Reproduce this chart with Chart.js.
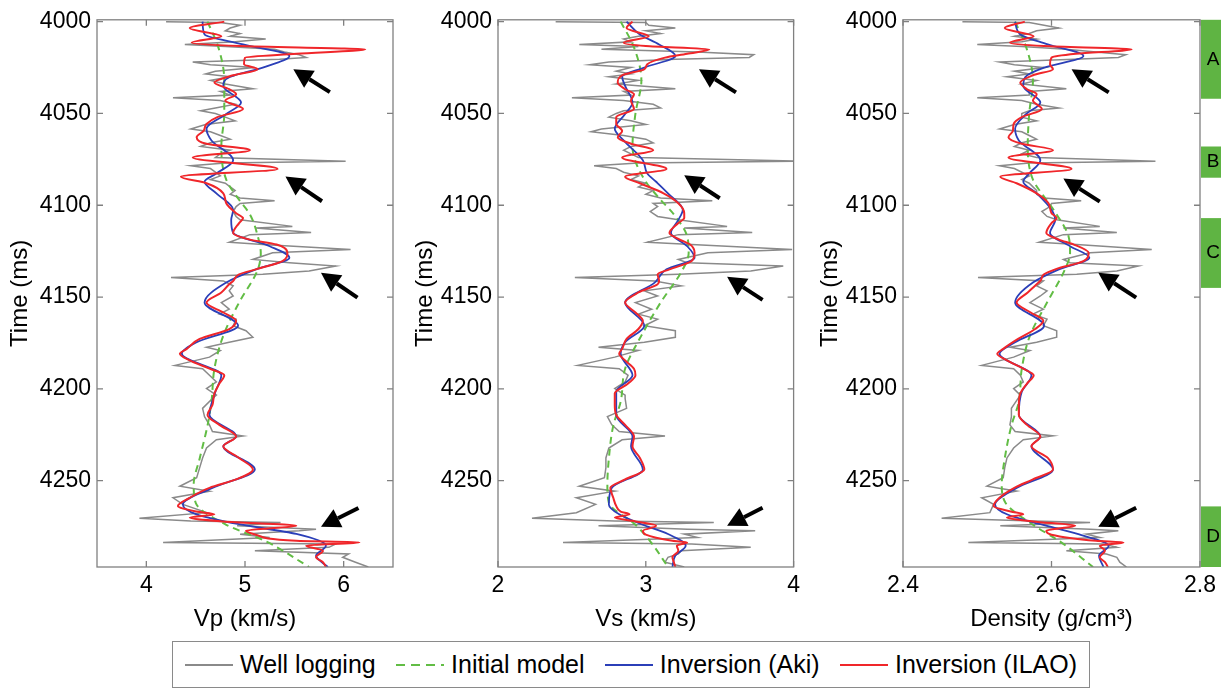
<!DOCTYPE html>
<html>
<head>
<meta charset="utf-8">
<script src="https://cdn.jsdelivr.net/npm/chart.js@4.4.0/dist/chart.umd.min.js"></script>
<style>
  body { margin: 0; background: #fff; font-family: "Liberation Sans", Arial, sans-serif; }
  #wrap { position: relative; width: 1228px; height: 689px; overflow: hidden; }
  #wrap canvas { position: absolute; top: 0; }
  #legend {
    position: absolute; left: 172px; top: 641px; width: 892px; height: 45px; padding: 0 12px;
    border: 1px solid #8a8a8a; display: flex; align-items: center; justify-content: space-between;
    font-size: 25px; color: #000;
  }
  #legend .item { display: flex; align-items: center; }
  #legend .ln { display: inline-block; width: 48px; height: 2px; margin-right: 7px; }
</style>
</head>
<body>
<div id="wrap">
  <canvas id="vpChart" width="400" height="640" style="left:0px"></canvas>
  <canvas id="vsChart" width="400" height="640" style="left:405px"></canvas>
  <canvas id="rhoChart" width="418" height="640" style="left:810px"></canvas>
  <div id="legend">
    <span class="item"><i class="ln" style="background:#8a8a8a"></i>Well logging</span>
    <span class="item"><i class="ln" style="background:repeating-linear-gradient(to right,#62bd45 0 9px,transparent 9px 15px)"></i>Initial model</span>
    <span class="item"><i class="ln" style="background:#2b3fb8"></i>Inversion (Aki)</span>
    <span class="item"><i class="ln" style="background:#f0262a"></i>Inversion (ILAO)</span>
  </div>
</div>
<script>
// ---- well logging (gray) ----
const tWell = [
  4000, 4000.5, 4002, 4003.5, 4005, 4006.5, 4008, 4009.5, 4011, 4012.5, 4013.5, 4015, 4016.5, 4018, 4019.5,
  4020.5, 4022, 4023.5, 4025, 4027, 4028.5, 4030, 4032, 4034, 4036.5, 4038, 4040, 4041.5, 4043, 4045,
  4047, 4048.5, 4050, 4052, 4054, 4056, 4058.5, 4060, 4062, 4064, 4066, 4068, 4070, 4072, 4074,
  4076, 4077, 4078.5, 4080, 4082, 4084, 4086, 4088, 4090, 4092, 4094, 4096, 4097.5, 4099,
  4100.7, 4103.4, 4106.1, 4107.9, 4111.5, 4112.4, 4114.8, 4116, 4120.2, 4121.4, 4124.1, 4125.9, 4129.5,
  4131.3, 4133.1, 4135.8, 4137.6, 4139.4, 4141.2, 4143.9, 4146.6, 4149.4, 4153, 4156.6, 4159.3, 4162,
  4165.6, 4168.3, 4171.9, 4174.6, 4177.3, 4179.1, 4182.7, 4187.2, 4189, 4192.6, 4196.2, 4199.8, 4203.4,
  4205.2, 4210.6, 4215.1, 4219.6, 4223.2, 4225.6, 4227.7, 4232.2, 4237.6, 4243, 4248.4, 4253, 4255.7,
  4259.3, 4262.9, 4267.4, 4270.4, 4271.9, 4272.8, 4274.6, 4276.4, 4277.3, 4279.1, 4280.9, 4283.6, 4284.5,
  4286.3, 4288.1, 4289.9, 4291.7, 4294.4, 4297
];
const vpWell = [
  4.20, 4.75, 4.95, 4.85, 4.80, 4.95, 4.85, 5.21, 4.90, 4.39, 4.80, 5.30, 5.40, 5.55, 5.62,
  5.35, 4.47, 4.65, 5.10, 4.70, 4.60, 4.85, 4.65, 4.80, 5.08, 4.75, 4.85, 4.27, 4.75, 4.90,
  4.70, 4.55, 4.70, 4.80, 4.90, 4.60, 4.45, 4.65, 4.75, 4.85, 4.65, 4.55, 4.85, 4.75, 4.70,
  6.02, 4.80, 4.45, 4.65, 4.70, 4.75, 4.65, 4.80, 4.85, 4.90, 4.85, 4.95, 5.30, 4.95,
  4.91, 4.88, 4.91, 4.95, 5.48, 5.11, 5.67, 5.05, 4.84, 5.18, 6.07, 5.28, 5.08,
  5.45, 5.92, 5.65, 5.18, 4.25, 4.78, 4.88, 4.84, 4.88, 4.76, 4.84, 4.74, 4.91,
  4.88, 5.01, 5.08, 4.84, 4.61, 4.75, 4.64, 4.29, 4.57, 4.64, 4.71, 4.61, 4.71,
  4.67, 4.57, 4.59, 4.64, 4.67, 4.98, 4.71, 4.61, 4.57, 4.54, 4.51, 4.34, 4.64,
  4.27, 4.37, 4.61, 3.93, 4.45, 5.36, 4.92, 5.72, 5.55, 4.95, 5.25, 4.17, 5.92,
  5.85, 5.10, 6.05, 5.99, 6.12, 6.25
];
const vsWell = [
  2.39, 3.00, 3.02, 3.20, 3.00, 3.10, 2.95, 2.85, 2.90, 2.55, 2.95, 2.70, 3.35, 3.73, 3.70,
  3.20, 2.75, 2.62, 2.90, 2.80, 2.90, 2.75, 2.95, 2.80, 3.20, 2.85, 2.90, 2.50, 2.85, 3.05,
  3.10, 2.85, 2.80, 2.75, 2.90, 3.00, 2.70, 2.63, 2.85, 3.00, 3.05, 2.90, 2.85, 2.90, 2.95,
  4.05, 2.95, 2.65, 2.80, 2.85, 2.95, 2.90, 3.00, 2.95, 3.05, 3.00, 3.10, 3.45, 3.05,
  3.08, 3.03, 3.08, 3.22, 3.55, 3.26, 3.72, 3.22, 3.01, 3.31, 3.99, 3.42, 3.22,
  3.28, 3.93, 3.71, 3.22, 2.52, 3.06, 3.24, 2.99, 3.08, 2.93, 3.04, 2.95, 3.08,
  2.99, 3.20, 3.20, 2.99, 2.68, 2.95, 2.79, 2.54, 2.82, 2.88, 2.86, 2.79, 2.86,
  2.86, 2.87, 2.74, 2.77, 2.82, 3.13, 2.84, 2.75, 2.73, 2.73, 2.72, 2.55, 2.79,
  2.53, 2.66, 2.53, 2.23, 2.79, 3.46, 2.68, 3.28, 3.74, 3.26, 3.35, 2.44, 3.31,
  3.71, 3.24, 3.22, 3.15, 3.13, 3.26
];
const rhoWell = [
  2.48, 2.57, 2.59, 2.61, 2.58, 2.57, 2.55, 2.58, 2.56, 2.50, 2.56, 2.62, 2.66, 2.70, 2.69,
  2.63, 2.53, 2.55, 2.59, 2.55, 2.57, 2.54, 2.58, 2.56, 2.62, 2.57, 2.57, 2.50, 2.56, 2.58,
  2.61, 2.57, 2.56, 2.56, 2.58, 2.55, 2.53, 2.56, 2.57, 2.58, 2.56, 2.55, 2.57, 2.56, 2.58,
  2.74, 2.57, 2.53, 2.55, 2.56, 2.57, 2.56, 2.57, 2.575, 2.58, 2.58, 2.59, 2.64, 2.60,
  2.598, 2.587, 2.594, 2.607, 2.665, 2.616, 2.688, 2.616, 2.583, 2.634, 2.735, 2.652, 2.616,
  2.625, 2.717, 2.688, 2.634, 2.501, 2.589, 2.580, 2.594, 2.585, 2.571, 2.589, 2.575, 2.594,
  2.589, 2.607, 2.607, 2.580, 2.544, 2.571, 2.549, 2.506, 2.549, 2.558, 2.562, 2.549, 2.558,
  2.555, 2.546, 2.546, 2.544, 2.551, 2.602, 2.562, 2.549, 2.540, 2.537, 2.535, 2.513, 2.553,
  2.506, 2.522, 2.517, 2.452, 2.576, 2.652, 2.531, 2.652, 2.690, 2.647, 2.665, 2.488, 2.670,
  2.688, 2.620, 2.674, 2.688, 2.692, 2.701
];

// ---- initial model (green dashed) ----
const tInit = [4000, 4014, 4032, 4050, 4068, 4086, 4097, 4105, 4117, 4126, 4135, 4153, 4171, 4189, 4207, 4220, 4238, 4252, 4262, 4274, 4283, 4297];
const vpInit = [4.62, 4.73, 4.79, 4.79, 4.76, 4.81, 4.94, 5.05, 5.13, 5.16, 5.13, 4.94, 4.78, 4.69, 4.66, 4.62, 4.54, 4.48, 4.50, 4.81, 5.21, 5.65];
const vsInit = [2.83, 2.92, 2.97, 2.93, 2.91, 2.99, 3.10, 3.19, 3.28, 3.29, 3.25, 3.10, 2.97, 2.86, 2.83, 2.78, 2.75, 2.74, 2.75, 2.93, 3.03, 3.15];
const rhoInit = [2.551, 2.566, 2.575, 2.570, 2.568, 2.575, 2.593, 2.607, 2.623, 2.625, 2.618, 2.594, 2.571, 2.560, 2.556, 2.546, 2.537, 2.533, 2.538, 2.575, 2.611, 2.656];

// ---- inversion (Aki, blue) ----
const tAki = [
  4000, 4007, 4012.4, 4018.7, 4025, 4030, 4035, 4044, 4050.3, 4058.4, 4064.7, 4075.5, 4082.7, 4087.2,
  4093.5, 4102.5, 4108, 4115.1, 4122.3, 4128.6, 4134.9, 4142.1, 4153, 4165.6, 4174.6, 4180.9, 4192.6,
  4201.6, 4214.2, 4225.9, 4231.3, 4243.9, 4253.9, 4262.9, 4268.3, 4273.7, 4279, 4285.4, 4290.8, 4297
];
const vpAki = [
  4.57, 4.59, 4.98, 5.45, 5.18, 4.85, 4.78, 4.96, 4.81, 4.61, 4.66, 4.88, 4.71, 4.59,
  4.71, 4.88, 4.86, 4.88, 5.25, 5.45, 5.11, 4.81, 4.59, 4.93, 4.51, 4.36, 4.76,
  4.70, 4.64, 4.91, 4.78, 5.10, 4.67, 4.37, 4.51, 4.94, 5.52, 5.82, 5.72, 5.84
];
const vsAki = [
  2.87, 2.96, 3.09, 3.20, 2.99, 2.84, 2.86, 2.91, 2.86, 2.79, 2.85, 2.98, 3.01, 3.07,
  3.15, 3.25, 3.22, 3.17, 3.28, 3.33, 3.14, 3.06, 2.86, 2.99, 2.86, 2.83, 2.91,
  2.80, 2.80, 2.91, 2.90, 2.98, 2.77, 2.75, 2.82, 2.97, 3.15, 3.27, 3.20, 3.18
];
const rhoAki = [
  2.551, 2.558, 2.595, 2.643, 2.590, 2.565, 2.562, 2.585, 2.566, 2.551, 2.556, 2.585, 2.570, 2.562,
  2.580, 2.600, 2.605, 2.598, 2.625, 2.651, 2.610, 2.575, 2.551, 2.590, 2.551, 2.530, 2.573,
  2.560, 2.556, 2.585, 2.573, 2.602, 2.553, 2.524, 2.540, 2.585, 2.635, 2.677, 2.664, 2.670
];

// ---- inversion (ILAO, red) ----
const tIlao = [
  4000, 4003.5, 4008, 4011.5, 4013.3, 4015.1, 4017.5, 4019.6, 4023.2, 4025.9, 4029.2, 4033.2, 4036.8,
  4039.5, 4043, 4047.6, 4052, 4055.7, 4059.5, 4062.9, 4066.5, 4070, 4074, 4080.2, 4084.5, 4088, 4093.5,
  4098.9, 4104.3, 4107, 4109.7, 4115.1, 4118.7, 4121.4, 4125.9, 4130.4, 4134.9, 4137.6, 4141.2, 4143,
  4147.5, 4153, 4158.4, 4162.9, 4167.4, 4172.8, 4178.2, 4180.9, 4184.5, 4189, 4192.6, 4197.1, 4202.5,
  4208.8, 4214.2, 4219.6, 4225.9, 4231.3, 4237.6, 4243.9, 4249.3, 4253.9, 4259.3, 4263.8, 4266.8,
  4268.3, 4270.1, 4272.2, 4274.6, 4277.3, 4279.4, 4282.7, 4283.6, 4285.4, 4288.1, 4291.7, 4294.4, 4297
];
const vpIlao = [
  4.79, 4.44, 4.76, 4.46, 4.95, 6.22, 5.52, 5.00, 4.99, 5.13, 4.88, 4.69, 4.84,
  4.91, 4.80, 4.98, 4.72, 4.61, 4.58, 4.51, 4.61, 5.05, 4.47, 5.33, 4.35, 4.61, 4.78,
  4.81, 4.91, 4.98, 4.94, 4.88, 5.05, 5.32, 5.43, 5.38, 5.11, 4.94, 4.88, 4.84,
  4.76, 4.61, 4.78, 4.91, 4.84, 4.54, 4.41, 4.34, 4.44, 4.64, 4.79, 4.74, 4.69,
  4.67, 4.62, 4.74, 4.91, 4.78, 4.94, 5.08, 4.91, 4.64, 4.44, 4.32, 4.51,
  4.69, 4.44, 4.78, 5.52, 5.01, 5.11, 5.52, 6.16, 5.62, 5.79, 5.72, 5.79, 5.82
];
const vsIlao = [
  2.91, 2.87, 3.02, 2.85, 3.00, 3.43, 3.28, 3.13, 3.01, 2.99, 2.84, 2.81, 2.86,
  2.92, 2.90, 2.92, 2.80, 2.80, 2.84, 2.81, 2.90, 3.05, 2.84, 3.14, 2.86, 2.96, 3.12,
  3.22, 3.26, 3.26, 3.22, 3.16, 3.23, 3.30, 3.33, 3.31, 3.16, 3.08, 3.09, 3.08,
  2.95, 2.86, 2.93, 2.98, 2.95, 2.87, 2.84, 2.82, 2.86, 2.92, 2.93, 2.88, 2.79,
  2.79, 2.80, 2.86, 2.92, 2.91, 2.96, 2.99, 2.86, 2.76, 2.78, 2.80, 2.83,
  2.89, 2.79, 2.93, 3.07, 2.98, 3.00, 3.18, 3.28, 3.21, 3.22, 3.18, 3.19, 3.20
];
const rhoIlao = [
  2.564, 2.537, 2.576, 2.544, 2.590, 2.708, 2.633, 2.600, 2.598, 2.602, 2.575, 2.558, 2.567,
  2.580, 2.575, 2.587, 2.560, 2.549, 2.548, 2.542, 2.560, 2.602, 2.542, 2.627, 2.531, 2.553, 2.580,
  2.596, 2.600, 2.607, 2.600, 2.593, 2.610, 2.630, 2.650, 2.643, 2.605, 2.590, 2.585, 2.580,
  2.568, 2.553, 2.572, 2.589, 2.578, 2.555, 2.535, 2.527, 2.540, 2.562, 2.576, 2.567, 2.558,
  2.556, 2.556, 2.567, 2.585, 2.573, 2.595, 2.602, 2.575, 2.550, 2.530, 2.522, 2.545,
  2.562, 2.540, 2.575, 2.632, 2.593, 2.600, 2.660, 2.697, 2.665, 2.672, 2.665, 2.672, 2.676
];

// ---- axes ----
const timeTicks = [4000, 4050, 4100, 4150, 4200, 4250];
const vpTicks = [4, 5, 6];
const vsTicks = [2, 3, 4];
const rhoTicks = [2.4, 2.6, 2.8];

// arrows: [tail value, tail time, tip value, tip time]
const vpArrows = [[5.86, 4038.4, 5.49, 4025.9], [5.78, 4097.8, 5.41, 4084.3], [6.14, 4150.3, 5.77, 4136.8], [6.15, 4264.9, 5.77, 4275.1]];
const vsArrows = [[3.61, 4038.5, 3.36, 4025.9], [3.50, 4096.2, 3.26, 4083.6], [3.79, 4151.5, 3.55, 4138.9], [3.79, 4264.7, 3.55, 4274.6]];
const rhoArrows = [[2.677, 4038.5, 2.627, 4025.9], [2.665, 4098, 2.616, 4085.4], [2.714, 4150.3, 2.663, 4136.8], [2.714, 4264.7, 2.663, 4275.1]];

// zones on the right side
const zoneNames = ["A", "B", "C", "D"];
const zoneStart = [3999, 4068, 4107, 4264];
const zoneEnd = [4042, 4085, 4145, 4297];

Chart.defaults.font.family = "'Liberation Sans', Arial, sans-serif";
Chart.defaults.color = "#000";

const pts = (times, vals) => times.map((t, i) => ({ x: vals[i], y: t }));

// frame with inward ticks, arrows and zone bars
const decor = {
  id: "decor",
  afterDatasetsDraw(chart, args, opts) {
    const { ctx, chartArea: a, scales: { x, y } } = chart;
    ctx.save();
    ctx.strokeStyle = "#808080";
    ctx.lineWidth = 1.3;
    ctx.strokeRect(a.left, a.top, a.right - a.left, a.bottom - a.top);
    ctx.beginPath();
    x.ticks.forEach((t) => {
      const p = x.getPixelForValue(t.value);
      ctx.moveTo(p, a.bottom); ctx.lineTo(p, a.bottom - 6);
      ctx.moveTo(p, a.top); ctx.lineTo(p, a.top + 6);
    });
    y.ticks.forEach((t) => {
      const p = y.getPixelForValue(t.value);
      ctx.moveTo(a.left, p); ctx.lineTo(a.left + 6, p);
      ctx.moveTo(a.right, p); ctx.lineTo(a.right - 6, p);
    });
    ctx.stroke();

    ctx.fillStyle = "#000";
    ctx.strokeStyle = "#000";
    (opts.arrows || []).forEach(([v0, t0, v1, t1]) => {
      const x0 = x.getPixelForValue(v0), y0 = y.getPixelForValue(t0);
      const x1 = x.getPixelForValue(v1), y1 = y.getPixelForValue(t1);
      const ang = Math.atan2(y1 - y0, x1 - x0);
      const c = Math.cos(ang), s = Math.sin(ang);
      const bx = x1 - 19 * c, by = y1 - 19 * s;
      ctx.lineWidth = 4;
      ctx.beginPath();
      ctx.moveTo(x0, y0); ctx.lineTo(bx, by);
      ctx.stroke();
      ctx.beginPath();
      ctx.moveTo(x1, y1);
      ctx.lineTo(bx - 10 * s, by + 10 * c);
      ctx.lineTo(bx + 10 * s, by - 10 * c);
      ctx.closePath();
      ctx.fill();
    });

    if (opts.zones) {
      ctx.font = "19px 'Liberation Sans', Arial, sans-serif";
      ctx.textAlign = "center";
      ctx.textBaseline = "middle";
      zoneNames.forEach((name, i) => {
        const ya = Math.max(y.getPixelForValue(zoneStart[i]), a.top);
        const yb = Math.min(y.getPixelForValue(zoneEnd[i]), a.bottom);
        ctx.fillStyle = "#5fb443";
        ctx.fillRect(a.right + 1, ya, 20, yb - ya);
        ctx.fillStyle = "#000";
        ctx.fillText(name, a.right + 13, (ya + yb) / 2);
      });
    }
    ctx.restore();
  }
};

function makePanel(id, cfg) {
  const ctx = document.getElementById(id).getContext("2d");
  return new Chart(ctx, {
    type: "line",
    data: {
      datasets: [
        { label: "Inversion (ILAO)", data: pts(tIlao, cfg.ilao), borderColor: "#f0262a", borderWidth: 2, cubicInterpolationMode: "monotone", order: 0 },
        { label: "Inversion (Aki)", data: pts(tAki, cfg.aki), borderColor: "#2b3fb8", borderWidth: 1.8, cubicInterpolationMode: "monotone", order: 1 },
        { label: "Initial model", data: pts(tInit, cfg.init), borderColor: "#62bd45", borderWidth: 2, borderDash: [7, 5], cubicInterpolationMode: "monotone", order: 2 },
        { label: "Well logging", data: pts(tWell, cfg.well), borderColor: "#8a8a8a", borderWidth: 1.5, tension: 0, order: 3 },
      ],
    },
    options: {
      responsive: false,
      animation: false,
      indexAxis: "y",
      elements: { point: { radius: 0 } },
      layout: { padding: { top: 17, right: cfg.padRight, left: 0, bottom: 0 } },
      plugins: {
        legend: { display: false },
        tooltip: { enabled: false },
        decor: { arrows: cfg.arrows, zones: cfg.zones },
      },
      scales: {
        x: {
          type: "linear",
          min: cfg.min,
          max: cfg.max,
          afterBuildTicks: (s) => { s.ticks = cfg.ticks.map((v) => ({ value: v })); },
          afterFit: (s) => { s.height = 73; },
          grid: { display: false, drawTicks: false },
          border: { display: false },
          ticks: {
            autoSkip: false, maxRotation: 0, padding: 5,
            font: { size: 23 },
            callback: (v) => cfg.fmt(v),
          },
          title: { display: true, text: cfg.title, font: { size: 24 }, padding: { top: 0, bottom: 6 } },
        },
        y: {
          type: "linear",
          reverse: true,
          min: 3999,
          max: 4297,
          afterBuildTicks: (s) => { s.ticks = timeTicks.map((v) => ({ value: v })); },
          afterFit: (s) => { s.width = cfg.axisWidth; },
          grid: { display: false, drawTicks: false },
          border: { display: false },
          ticks: { autoSkip: false, padding: 6, font: { size: 23 }, callback: (v) => String(v) },
          title: { display: true, text: "Time (ms)", font: { size: 24 }, padding: { top: 6, bottom: 0 } },
        },
      },
    },
    plugins: [decor],
  });
}

makePanel("vpChart", {
  well: vpWell, init: vpInit, aki: vpAki, ilao: vpIlao,
  min: 3.5, max: 6.5, ticks: vpTicks, fmt: (v) => String(v),
  title: "Vp (km/s)", axisWidth: 97, padRight: 7, arrows: vpArrows,
});
makePanel("vsChart", {
  well: vsWell, init: vsInit, aki: vsAki, ilao: vsIlao,
  min: 2, max: 4, ticks: vsTicks, fmt: (v) => String(v),
  title: "Vs (km/s)", axisWidth: 93, padRight: 8, arrows: vsArrows,
});
makePanel("rhoChart", {
  well: rhoWell, init: rhoInit, aki: rhoAki, ilao: rhoIlao,
  min: 2.4, max: 2.8, ticks: rhoTicks, fmt: (v) => v.toFixed(1),
  title: "Density (g/cm³)", axisWidth: 93, padRight: 28, arrows: rhoArrows, zones: true,
});
</script>
</body>
</html>
